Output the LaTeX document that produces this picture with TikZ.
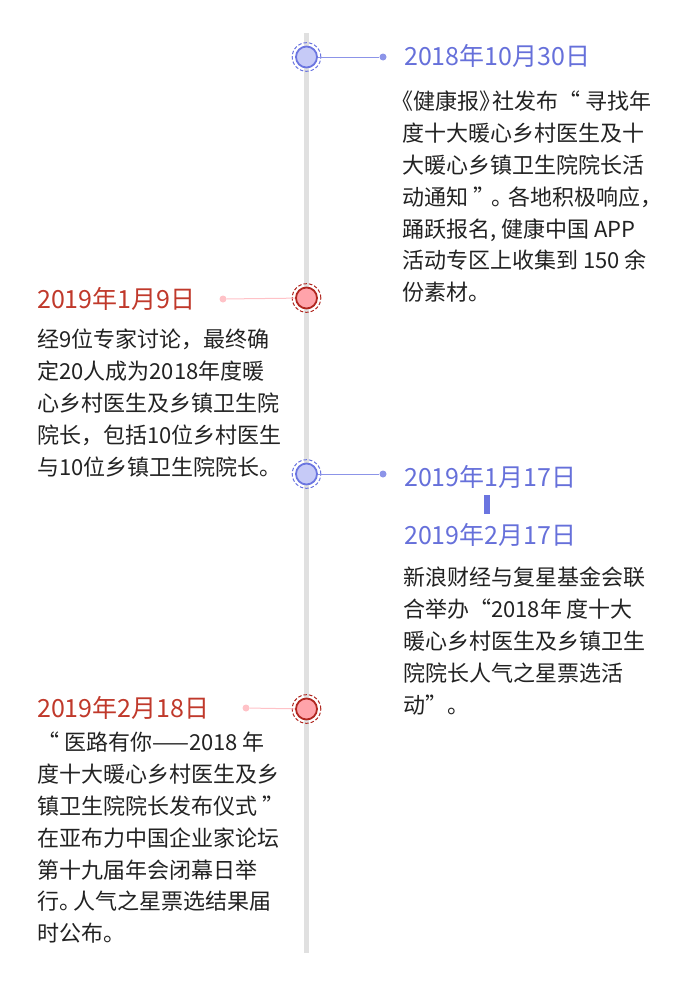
\documentclass[tikz,border=0pt]{standalone}
\usepackage{fontspec}
\setmainfont{Noto Sans CJK SC}
\usepackage{xcolor}
\definecolor{blueline}{HTML}{6B75E0}
\definecolor{bluefill}{HTML}{C6CAF7}
\definecolor{bluelink}{HTML}{8C94E8}
\definecolor{bluetext}{HTML}{6670DA}
\definecolor{redline}{HTML}{B0261F}
\definecolor{redfill}{HTML}{FFA3AA}
\definecolor{redlink}{HTML}{FFC2C7}
\definecolor{redtext}{HTML}{C0392B}
\definecolor{axisgray}{HTML}{E0E0E0}
\definecolor{bodytext}{HTML}{222222}

\begin{document}
\begin{tikzpicture}[x=1pt, y=-1pt,
  % Node Styles
  bmark/.style={circle, draw=blueline, fill=bluefill, line width=1.8pt, minimum size=21pt, inner sep=0pt},
  rmark/.style={circle, draw=redline, fill=redfill, line width=1.8pt, minimum size=21pt, inner sep=0pt},
  bdot/.style={circle, fill=bluelink, minimum size=7pt, inner sep=0pt},
  rdot/.style={circle, fill=redlink, minimum size=7pt, inner sep=0pt},
  bdate/.style={anchor=west, inner sep=0pt, text=bluetext, font=\fontsize{25}{28}\selectfont},
  rdate/.style={anchor=west, inner sep=0pt, text=redtext, font=\fontsize{25}{28}\selectfont},
  story/.style={anchor=north west, align=left, inner sep=0pt, text=bodytext, font=\fontsize{22}{31.8}\selectfont},
  % Line Styles
  axis/.style={line width=5pt, draw=axisgray},
  blink/.style={line width=1pt, draw=bluelink},
  rlink/.style={line width=1pt, draw=redlink},
  bring/.style={draw=blueline, line width=1pt, dash pattern=on 3.5pt off 2pt},
  rring/.style={draw=redline, line width=1pt, dash pattern=on 3.5pt off 2pt}
]
\useasboundingbox (0,0) rectangle (680,988);

% Timeline axis
\coordinate (top) at (306.5,33);
\coordinate (bottom) at (306.5,953);
\draw[axis] (top) -- (bottom);

% Markers and links
\node[bmark] (M_0) at (306.5,57) {};
\node[rmark] (M_1) at (306.5,298) {};
\node[bmark] (M_2) at (306.5,474) {};
\node[rmark] (M_3) at (306.5,709) {};
\draw[bring] (M_0) circle (14.3pt);
\draw[rring] (M_1) circle (14.3pt);
\draw[bring] (M_2) circle (14.3pt);
\draw[rring] (M_3) circle (14.3pt);

\node[bdot] (d_0) at (383,57) {};
\node[rdot] (d_1) at (223,299) {};
\node[bdot] (d_2) at (383,474) {};
\node[rdot] (d_3) at (246,708) {};
\draw[blink] (M_0) -- (d_0);
\draw[rlink] (M_1) -- (d_1);
\draw[blink] (M_2) -- (d_2);
\draw[rlink] (M_3) -- (d_3);

% Dates
\node[bdate] (D_0) at (404,56) {2018年10月30日};
\node[rdate] (D_1) at (37,299) {2019年1月9日};
\node[bdate] (D_2) at (404,476.5) {2019年1月17日};
\node[fill=blueline, minimum width=6pt, minimum height=19pt, inner sep=0pt] (bar) at (487,504.5) {};
\node[bdate] (D_3) at (404,535) {2019年2月17日};
\node[rdate] (D_4) at (37,707.5) {2019年2月18日};

% Stories
\node[story] (T_0) at (402,91) {\hspace*{-11pt}《健康报》\hspace{-9pt}社发布“ 寻找年\\度十大暖心乡村医生及十\\大暖心乡镇卫生院院长活\\动通知 ”\hspace{-4pt}。\hspace{-5pt}各地积极响应，\\踊跃报名, 健康中国 APP\\活动专区上收集到 150 余\\份素材。};
\node[story] (T_1) at (37,329) {经9位专家讨论，最终确\\定20人成为2018年度暖\\心乡村医生及乡镇卫生院\\院长，包括10位乡村医生\\与10位乡镇卫生院院长。};
\node[story] (T_2) at (403,567) {新浪财经与复星基金会联\\合举办“2018年 度十大\\暖心乡村医生及乡镇卫生\\院院长人气之星票选活\\动”。};
\node[story] (T_3) at (37,732) {“ 医路有你——2018 年\\度十大暖心乡村医生及乡\\镇卫生院院长发布仪式 ”\\在亚布力中国企业家论坛\\第十九届年会闭幕日举\\行。\hspace{-8pt}人气之星票选结果届\\时公布。};

\end{tikzpicture}
\end{document}
